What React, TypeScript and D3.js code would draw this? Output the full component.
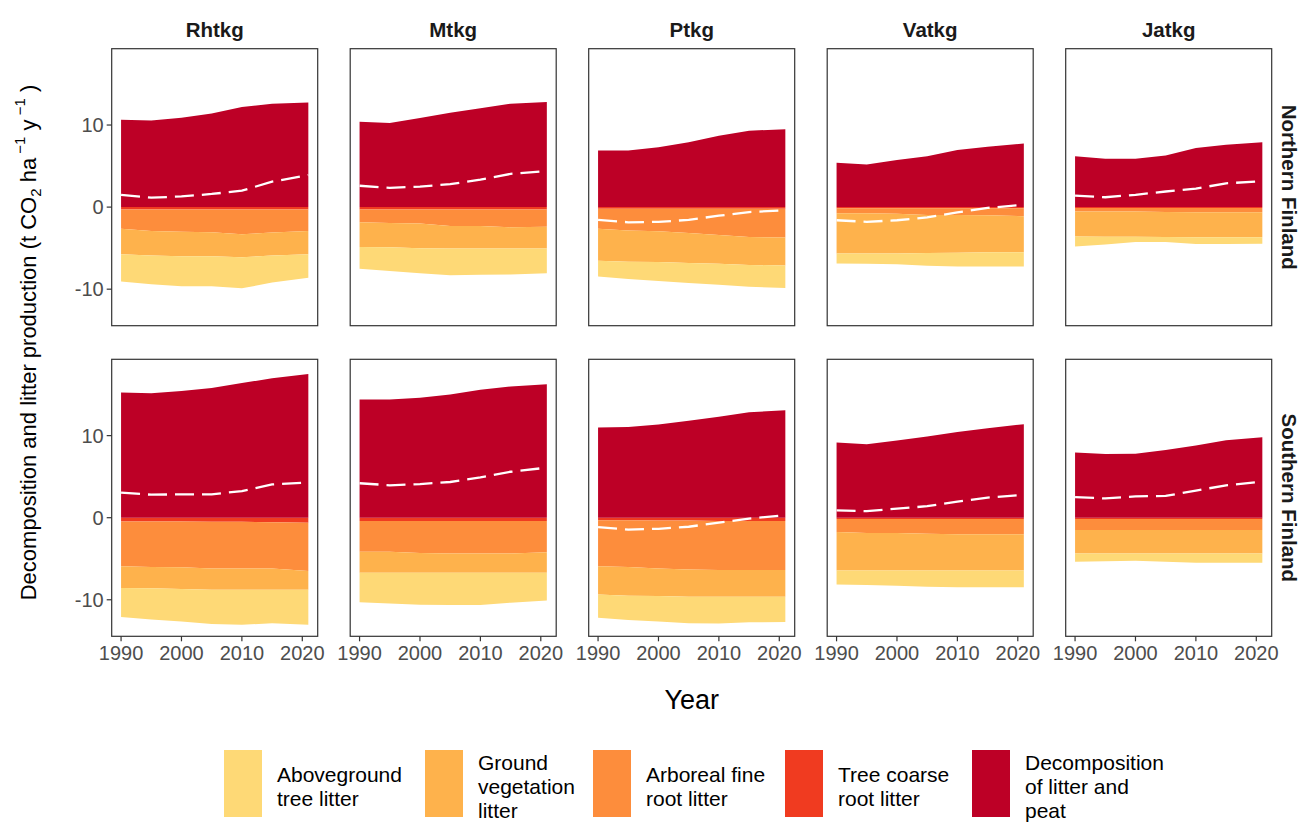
import React from "react";
import * as d3 from "d3";

// ---- data -------------------------------------------------------------
const years = [1990, 1995, 2000, 2005, 2010, 2015, 2021];
const siteTypes = ["Rhtkg", "Mtkg", "Ptkg", "Vatkg", "Jatkg"];
const regions = ["Northern Finland", "Southern Finland"];

// Litter production (t CO2 / ha / y), one row per site type, values per year
const aboveNorth = [
  [3.33, 3.5, 3.65, 3.65, 3.8, 3.3, 2.86],
  [2.65, 2.9, 3.05, 3.27, 3.22, 3.17, 3.02],
  [1.9, 2.1, 2.3, 2.45, 2.55, 2.65, 2.75],
  [1.22, 1.25, 1.3, 1.55, 1.69, 1.74, 1.74],
  [1.22, 0.95, 0.63, 0.6, 0.84, 0.84, 0.81],
];
const groundNorth = [
  [3.09, 3.0, 3.0, 2.95, 2.8, 2.8, 2.84],
  [3.0, 2.95, 3.0, 2.73, 2.73, 2.58, 2.63],
  [3.9, 3.8, 3.75, 3.65, 3.5, 3.4, 3.4],
  [4.9, 4.9, 4.85, 4.65, 4.6, 4.5, 4.4],
  [3.03, 3.05, 3.07, 3.05, 3.04, 3.04, 3.04],
];
const fineRootNorth = [
  [2.35, 2.6, 2.7, 2.75, 3.0, 2.8, 2.6],
  [1.55, 1.65, 1.7, 2.0, 2.0, 2.15, 2.1],
  [2.45, 2.65, 2.75, 2.95, 3.2, 3.45, 3.5],
  [0.6, 0.6, 0.65, 0.8, 0.8, 0.85, 0.95],
  [0.45, 0.45, 0.45, 0.5, 0.52, 0.52, 0.52],
];
const coarseRootNorth = [
  [0.3, 0.3, 0.3, 0.3, 0.3, 0.3, 0.3],
  [0.3, 0.3, 0.3, 0.3, 0.3, 0.3, 0.3],
  [0.2, 0.2, 0.2, 0.2, 0.2, 0.2, 0.2],
  [0.15, 0.15, 0.15, 0.15, 0.15, 0.15, 0.15],
  [0.1, 0.1, 0.1, 0.1, 0.1, 0.1, 0.1],
];
const decompNorth = [
  [10.65, 10.55, 10.9, 11.4, 12.2, 12.6, 12.75],
  [10.4, 10.25, 10.85, 11.5, 12.05, 12.6, 12.8],
  [6.9, 6.9, 7.3, 7.9, 8.7, 9.3, 9.5],
  [5.4, 5.2, 5.75, 6.2, 6.95, 7.35, 7.75],
  [6.2, 5.9, 5.9, 6.3, 7.2, 7.6, 7.9],
];
const netNorth = [
  [1.5, 1.15, 1.3, 1.6, 2.0, 3.1, 3.9],
  [2.6, 2.35, 2.5, 2.8, 3.35, 4.05, 4.4],
  [-1.55, -1.85, -1.8, -1.55, -1.05, -0.6, -0.4],
  [-1.6, -1.8, -1.6, -1.25, -0.65, -0.1, 0.3],
  [1.4, 1.2, 1.5, 1.9, 2.25, 2.9, 3.15],
];

const aboveSouth = [
  [3.55, 3.8, 3.95, 4.17, 4.27, 4.07, 4.27],
  [3.6, 3.75, 3.9, 3.95, 3.95, 3.65, 3.4],
  [2.85, 2.95, 3.1, 3.22, 3.26, 3.12, 3.09],
  [1.71, 1.78, 1.88, 1.98, 2.04, 2.04, 2.04],
  [1.02, 0.95, 0.9, 1.02, 1.15, 1.15, 1.15],
];
const groundSouth = [
  [2.62, 2.6, 2.65, 2.58, 2.58, 2.58, 2.28],
  [2.55, 2.55, 2.4, 2.33, 2.33, 2.33, 2.5],
  [3.45, 3.5, 3.35, 3.33, 3.25, 3.25, 3.25],
  [4.67, 4.55, 4.55, 4.47, 4.39, 4.39, 4.39],
  [2.85, 2.85, 2.85, 2.85, 2.85, 2.85, 2.85],
];
const fineRootSouth = [
  [5.48, 5.55, 5.6, 5.7, 5.7, 5.65, 5.9],
  [3.75, 3.75, 3.9, 3.97, 3.97, 3.97, 3.8],
  [5.6, 5.7, 5.85, 5.95, 5.98, 5.98, 5.98],
  [1.59, 1.71, 1.71, 1.79, 1.87, 1.87, 1.87],
  [1.35, 1.35, 1.35, 1.35, 1.35, 1.35, 1.35],
];
const coarseRootSouth = [
  [0.45, 0.45, 0.45, 0.5, 0.5, 0.55, 0.6],
  [0.4, 0.4, 0.4, 0.4, 0.4, 0.4, 0.4],
  [0.3, 0.3, 0.35, 0.35, 0.4, 0.4, 0.4],
  [0.16, 0.16, 0.16, 0.16, 0.16, 0.16, 0.16],
  [0.15, 0.15, 0.15, 0.15, 0.15, 0.15, 0.15],
];
const decompSouth = [
  [15.25, 15.15, 15.45, 15.8, 16.4, 17.0, 17.5],
  [14.4, 14.4, 14.6, 15.0, 15.6, 16.0, 16.25],
  [11.0, 11.05, 11.35, 11.8, 12.3, 12.85, 13.1],
  [9.15, 8.95, 9.4, 9.9, 10.45, 10.9, 11.4],
  [7.95, 7.75, 7.8, 8.25, 8.8, 9.45, 9.8],
];
const netSouth = [
  [3.05, 2.8, 2.85, 2.85, 3.25, 4.05, 4.3],
  [4.2, 3.95, 4.1, 4.35, 4.9, 5.6, 6.1],
  [-1.15, -1.45, -1.35, -1.1, -0.6, -0.1, 0.3],
  [0.9, 0.8, 1.1, 1.4, 1.95, 2.45, 2.8],
  [2.5, 2.35, 2.6, 2.65, 3.3, 3.95, 4.4],
];

const yTicks = [-10, 0, 10];
const xTicks = [1990, 2000, 2010, 2020];

const seriesKeys = ["coarse", "fine", "ground", "above", "decomp"];
const seriesColors: Record<string, string> = {
  above: "#FED976",
  ground: "#FEB24C",
  fine: "#FD8D3C",
  coarse: "#F03B20",
  decomp: "#BD0026",
};
const legendItems = [
  { key: "above", lines: ["Aboveground", "tree litter"] },
  { key: "ground", lines: ["Ground", "vegetation", "litter"] },
  { key: "fine", lines: ["Arboreal fine", "root litter"] },
  { key: "coarse", lines: ["Tree coarse", "root litter"] },
  { key: "decomp", lines: ["Decomposition", "of litter and", "peat"] },
];

const regionData = [
  { above: aboveNorth, ground: groundNorth, fine: fineRootNorth, coarse: coarseRootNorth, decomp: decompNorth, net: netNorth },
  { above: aboveSouth, ground: groundSouth, fine: fineRootSouth, coarse: coarseRootSouth, decomp: decompSouth, net: netSouth },
];

// ---- layout -----------------------------------------------------------
const FONT = "'Liberation Sans', Arial, Helvetica, sans-serif";
const PW = 206;
const PH = 277;
const PANEL_X0 = 111.7;
const PANEL_DX = 238.5;
const ROW_TOPS = [48.7, 359.3];
const LEGEND_KEY_X = [224, 425, 593, 785, 972];

const x = d3.scaleLinear().domain([1988.45, 2022.55]).range([0, PW]);
const y = d3.scaleLinear().domain([-14.45, 19.3]).range([PH, 0]);

function Panel({ r, c }: { r: number; c: number }) {
  const d = regionData[r];
  const rows = years.map((yr, i) => ({
    year: yr,
    coarse: -d.coarse[c][i],
    fine: -d.fine[c][i],
    ground: -d.ground[c][i],
    above: -d.above[c][i],
    decomp: d.decomp[c][i],
  }));
  const stacked = d3
    .stack<any>()
    .keys(seriesKeys)
    .offset(d3.stackOffsetDiverging)(rows);
  const area = d3
    .area<any>()
    .x((p) => x(p.data.year))
    .y0((p) => y(p[0]))
    .y1((p) => y(p[1]));
  const netLine = d3
    .line<number>()
    .x((_, i) => x(years[i]))
    .y((v) => y(v));

  return (
    <g transform={`translate(${PANEL_X0 + c * PANEL_DX},${ROW_TOPS[r]})`}>
      {stacked.map((s) => (
        <path key={s.key} d={area(s) || ""} fill={seriesColors[s.key]} />
      ))}
      <path
        d={netLine(d.net[c]) || ""}
        fill="none"
        stroke="#FFFFFF"
        strokeWidth={2.3}
        strokeDasharray="19 8"
      />
      <rect x={0} y={0} width={PW} height={PH} fill="none" stroke="#333333" strokeWidth={1.2} />
      {c === 0 &&
        yTicks.map((t) => (
          <g key={t} transform={`translate(0,${y(t)})`}>
            <line x1={-5} x2={0} stroke="#333333" strokeWidth={1.2} />
            <text x={-8} dy="0.36em" textAnchor="end" fontSize={20} fill="#4D4D4D" fontFamily={FONT}>
              {t}
            </text>
          </g>
        ))}
      {r === 1 &&
        xTicks.map((t) => (
          <g key={t} transform={`translate(${x(t)},${PH})`}>
            <line y1={0} y2={5} stroke="#333333" strokeWidth={1.2} />
            <text y={24} textAnchor="middle" fontSize={20} fill="#4D4D4D" fontFamily={FONT}>
              {t}
            </text>
          </g>
        ))}
      {r === 0 && (
        <text x={PW / 2} y={-12} textAnchor="middle" fontSize={20.5} fontWeight="bold" fill="#1A1A1A" fontFamily={FONT}>
          {siteTypes[c]}
        </text>
      )}
      {c === siteTypes.length - 1 && (
        <text
          transform={`translate(${PW + 18},${PH / 2}) rotate(90)`}
          textAnchor="middle"
          dy="0.36em"
          fontSize={20.5}
          fontWeight="bold"
          fill="#1A1A1A"
          fontFamily={FONT}
        >
          {regions[r]}
        </text>
      )}
    </g>
  );
}

export default function App() {
  const plotCenterX = PANEL_X0 + (4 * PANEL_DX + PW) / 2;
  const plotCenterY = (ROW_TOPS[0] + ROW_TOPS[1] + PH) / 2;
  return (
    <svg
      width={1302}
      height={822}
      style={{ position: "absolute", left: 0, top: 0, background: "#FFFFFF" }}
      fontFamily={FONT}
    >
      <rect width={1302} height={822} fill="#FFFFFF" />
      {regions.map((_, r) => siteTypes.map((_, c) => <Panel key={`${r}-${c}`} r={r} c={c} />))}

      <text
        transform={`translate(36,${plotCenterY}) rotate(-90)`}
        textAnchor="middle"
        fontSize={22}
        fill="#000000"
      >
        {"Decomposition and litter production (t CO"}
        <tspan dy={5} fontSize={15}>2</tspan>
        <tspan dy={-5}>{" ha"}</tspan>
        <tspan dy={-11} fontSize={15}>{" −1"}</tspan>
        <tspan dy={11}>{"  y"}</tspan>
        <tspan dy={-11} fontSize={15}>{" −1"}</tspan>
        <tspan dy={11}>{"  )"}</tspan>
      </text>

      <text x={plotCenterX} y={709} textAnchor="middle" fontSize={27} fill="#000000">
        Year
      </text>

      {legendItems.map((it, i) => {
        const kx = LEGEND_KEY_X[i];
        const n = it.lines.length;
        const cy = 786;
        return (
          <g key={it.key}>
            <rect x={kx} y={750} width={38} height={67} fill={seriesColors[it.key]} />
            <text fontSize={21} fill="#000000">
              {it.lines.map((ln, j) => (
                <tspan key={j} x={kx + 53} y={cy + (j - (n - 1) / 2) * 24} dy="0.36em">
                  {ln}
                </tspan>
              ))}
            </text>
          </g>
        );
      })}
    </svg>
  );
}
